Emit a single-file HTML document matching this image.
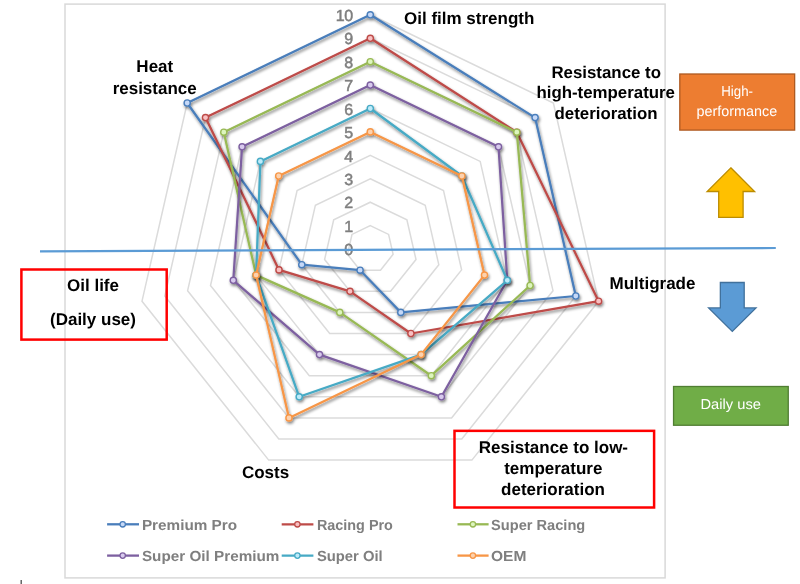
<!DOCTYPE html>
<html><head><meta charset="utf-8"><title>Radar chart</title>
<style>
html,body{margin:0;padding:0;background:#fff;}
body{width:800px;height:584px;overflow:hidden;position:relative;font-family:"Liberation Sans",sans-serif;}
svg{position:absolute;left:0;top:0;display:block;}
.cat{font-family:"Liberation Sans",sans-serif;font-weight:bold;font-size:17px;fill:#000;text-anchor:middle;}
.shp{font-family:"Liberation Sans",sans-serif;font-size:14.4px;fill:#fff;text-anchor:middle;}
</style></head><body>
<svg style="opacity:0.999;text-rendering:geometricPrecision" width="800" height="584" viewBox="0 0 800 584">
<defs>
<filter id="sh" x="-10%" y="-10%" width="120%" height="120%">
<feGaussianBlur in="SourceAlpha" stdDeviation="1.5" result="b"/>
<feOffset in="b" dx="0.8" dy="1.6" result="o"/>
<feComponentTransfer in="o" result="s"><feFuncA type="linear" slope="0.5"/></feComponentTransfer>
<feMerge><feMergeNode in="s"/><feMergeNode in="SourceGraphic"/></feMerge>
</filter>
</defs>
<rect x="0" y="0" width="800" height="584" fill="#fff"/>
<!-- chart area border -->
<rect x="65" y="4.1" width="600.1" height="573.8" fill="none" stroke="#D9D9D9" stroke-width="1.5"/>
<line x1="21.2" y1="580" x2="21.2" y2="584" stroke="#4D4D4D" stroke-width="1.3"/>
<!-- grid -->
<g fill="none" stroke="#DBDBDB" stroke-width="1.5"><polygon points="370.3,225.6 388.6,234.4 393.1,254.3 380.5,270.2 360.1,270.2 347.5,254.3 352.0,234.4"/><polygon points="370.3,202.2 406.9,219.8 416.0,259.5 390.6,291.3 350.0,291.3 324.6,259.5 333.7,219.8"/><polygon points="370.3,178.8 425.2,205.2 438.8,264.7 400.8,312.4 339.8,312.4 301.8,264.7 315.4,205.2"/><polygon points="370.3,155.4 443.5,190.6 461.6,269.9 410.9,333.5 329.7,333.5 279.0,269.9 297.1,190.6"/><polygon points="370.3,131.9 461.9,176.0 484.5,275.1 421.1,354.6 319.5,354.6 256.1,275.1 278.7,176.0"/><polygon points="370.3,108.5 480.2,161.4 507.3,280.3 431.3,375.7 309.3,375.7 233.3,280.3 260.4,161.4"/><polygon points="370.3,85.1 498.5,146.8 530.1,285.5 441.4,396.8 299.2,396.8 210.5,285.5 242.1,146.8"/><polygon points="370.3,61.7 516.8,132.2 553.0,290.7 451.6,417.9 289.0,417.9 187.6,290.7 223.8,132.2"/><polygon points="370.3,38.3 535.1,117.6 575.8,296.0 461.8,439.0 278.8,439.0 164.8,296.0 205.5,117.6"/><polygon points="370.3,14.8 553.4,103.0 598.6,301.2 471.9,460.1 268.7,460.1 142.0,301.2 187.2,103.0"/></g>
<!-- tick labels -->
<g font-family="Liberation Sans, sans-serif" font-weight="normal" font-size="16" fill="#7F7F7F" stroke="#7F7F7F" stroke-width="0.5" text-anchor="end"><text x="353.1" y="255.2">0</text><text x="353.1" y="231.7">1</text><text x="353.1" y="208.3">2</text><text x="353.1" y="184.9">3</text><text x="353.1" y="161.5">4</text><text x="353.1" y="138.0">5</text><text x="353.1" y="114.6">6</text><text x="353.1" y="91.2">7</text><text x="353.1" y="67.8">8</text><text x="353.1" y="44.4">9</text><text x="353.1" y="20.9" textLength="17.4" lengthAdjust="spacing">10</text></g>
<!-- series -->
<g filter="url(#sh)"><polygon points="370.3,14.8 535.1,117.6 575.8,296.0 400.8,312.4 360.1,270.2 301.8,264.7 187.2,103.0" fill="none" stroke="#4A7EBB" stroke-width="2.25" stroke-linejoin="round"/><circle cx="370.3" cy="14.8" r="3.1" fill="#C6D9F8" stroke="#4A7EBB" stroke-width="1.4"/><circle cx="535.1" cy="117.6" r="3.1" fill="#C6D9F8" stroke="#4A7EBB" stroke-width="1.4"/><circle cx="575.8" cy="296.0" r="3.1" fill="#C6D9F8" stroke="#4A7EBB" stroke-width="1.4"/><circle cx="400.8" cy="312.4" r="3.1" fill="#C6D9F8" stroke="#4A7EBB" stroke-width="1.4"/><circle cx="360.1" cy="270.2" r="3.1" fill="#C6D9F8" stroke="#4A7EBB" stroke-width="1.4"/><circle cx="301.8" cy="264.7" r="3.1" fill="#C6D9F8" stroke="#4A7EBB" stroke-width="1.4"/><circle cx="187.2" cy="103.0" r="3.1" fill="#C6D9F8" stroke="#4A7EBB" stroke-width="1.4"/></g>
<g filter="url(#sh)"><polygon points="370.3,38.3 516.8,132.2 598.6,301.2 410.9,333.5 350.0,291.3 279.0,269.9 205.5,117.6" fill="none" stroke="#BE4B48" stroke-width="2.25" stroke-linejoin="round"/><circle cx="370.3" cy="38.3" r="3.1" fill="#F8C0C2" stroke="#BE4B48" stroke-width="1.4"/><circle cx="516.8" cy="132.2" r="3.1" fill="#F8C0C2" stroke="#BE4B48" stroke-width="1.4"/><circle cx="598.6" cy="301.2" r="3.1" fill="#F8C0C2" stroke="#BE4B48" stroke-width="1.4"/><circle cx="410.9" cy="333.5" r="3.1" fill="#F8C0C2" stroke="#BE4B48" stroke-width="1.4"/><circle cx="350.0" cy="291.3" r="3.1" fill="#F8C0C2" stroke="#BE4B48" stroke-width="1.4"/><circle cx="279.0" cy="269.9" r="3.1" fill="#F8C0C2" stroke="#BE4B48" stroke-width="1.4"/><circle cx="205.5" cy="117.6" r="3.1" fill="#F8C0C2" stroke="#BE4B48" stroke-width="1.4"/></g>
<g filter="url(#sh)"><polygon points="370.3,61.7 516.8,132.2 530.1,285.5 431.3,375.7 339.8,312.4 256.1,275.1 223.8,132.2" fill="none" stroke="#98B954" stroke-width="2.25" stroke-linejoin="round"/><circle cx="370.3" cy="61.7" r="3.1" fill="#DDF5BE" stroke="#98B954" stroke-width="1.4"/><circle cx="516.8" cy="132.2" r="3.1" fill="#DDF5BE" stroke="#98B954" stroke-width="1.4"/><circle cx="530.1" cy="285.5" r="3.1" fill="#DDF5BE" stroke="#98B954" stroke-width="1.4"/><circle cx="431.3" cy="375.7" r="3.1" fill="#DDF5BE" stroke="#98B954" stroke-width="1.4"/><circle cx="339.8" cy="312.4" r="3.1" fill="#DDF5BE" stroke="#98B954" stroke-width="1.4"/><circle cx="256.1" cy="275.1" r="3.1" fill="#DDF5BE" stroke="#98B954" stroke-width="1.4"/><circle cx="223.8" cy="132.2" r="3.1" fill="#DDF5BE" stroke="#98B954" stroke-width="1.4"/></g>
<g filter="url(#sh)"><polygon points="370.3,85.1 498.5,146.8 507.3,280.3 441.4,396.8 319.5,354.6 233.3,280.3 242.1,146.8" fill="none" stroke="#7D60A0" stroke-width="2.25" stroke-linejoin="round"/><circle cx="370.3" cy="85.1" r="3.1" fill="#D8CAEE" stroke="#7D60A0" stroke-width="1.4"/><circle cx="498.5" cy="146.8" r="3.1" fill="#D8CAEE" stroke="#7D60A0" stroke-width="1.4"/><circle cx="507.3" cy="280.3" r="3.1" fill="#D8CAEE" stroke="#7D60A0" stroke-width="1.4"/><circle cx="441.4" cy="396.8" r="3.1" fill="#D8CAEE" stroke="#7D60A0" stroke-width="1.4"/><circle cx="319.5" cy="354.6" r="3.1" fill="#D8CAEE" stroke="#7D60A0" stroke-width="1.4"/><circle cx="233.3" cy="280.3" r="3.1" fill="#D8CAEE" stroke="#7D60A0" stroke-width="1.4"/><circle cx="242.1" cy="146.8" r="3.1" fill="#D8CAEE" stroke="#7D60A0" stroke-width="1.4"/></g>
<g filter="url(#sh)"><polygon points="370.3,108.5 461.9,176.0 507.3,280.3 421.1,354.6 299.2,396.8 256.1,275.1 260.4,161.4" fill="none" stroke="#46AAC5" stroke-width="2.25" stroke-linejoin="round"/><circle cx="370.3" cy="108.5" r="3.1" fill="#BEEBFA" stroke="#46AAC5" stroke-width="1.4"/><circle cx="461.9" cy="176.0" r="3.1" fill="#BEEBFA" stroke="#46AAC5" stroke-width="1.4"/><circle cx="507.3" cy="280.3" r="3.1" fill="#BEEBFA" stroke="#46AAC5" stroke-width="1.4"/><circle cx="421.1" cy="354.6" r="3.1" fill="#BEEBFA" stroke="#46AAC5" stroke-width="1.4"/><circle cx="299.2" cy="396.8" r="3.1" fill="#BEEBFA" stroke="#46AAC5" stroke-width="1.4"/><circle cx="256.1" cy="275.1" r="3.1" fill="#BEEBFA" stroke="#46AAC5" stroke-width="1.4"/><circle cx="260.4" cy="161.4" r="3.1" fill="#BEEBFA" stroke="#46AAC5" stroke-width="1.4"/></g>
<g filter="url(#sh)"><polygon points="370.3,131.9 461.9,176.0 484.5,275.1 421.1,354.6 289.0,417.9 256.1,275.1 278.7,176.0" fill="none" stroke="#F79646" stroke-width="2.25" stroke-linejoin="round"/><circle cx="370.3" cy="131.9" r="3.1" fill="#FDD2AE" stroke="#F79646" stroke-width="1.4"/><circle cx="461.9" cy="176.0" r="3.1" fill="#FDD2AE" stroke="#F79646" stroke-width="1.4"/><circle cx="484.5" cy="275.1" r="3.1" fill="#FDD2AE" stroke="#F79646" stroke-width="1.4"/><circle cx="421.1" cy="354.6" r="3.1" fill="#FDD2AE" stroke="#F79646" stroke-width="1.4"/><circle cx="289.0" cy="417.9" r="3.1" fill="#FDD2AE" stroke="#F79646" stroke-width="1.4"/><circle cx="256.1" cy="275.1" r="3.1" fill="#FDD2AE" stroke="#F79646" stroke-width="1.4"/><circle cx="278.7" cy="176.0" r="3.1" fill="#FDD2AE" stroke="#F79646" stroke-width="1.4"/></g>
<!-- category labels -->
<text class="cat" x="469.2" y="24.2">Oil film strength</text>
<text class="cat" style="font-size:16.85px" x="606.2" y="77.9">Resistance to</text>
<text class="cat" style="font-size:16.85px" x="605.7" y="98.1">high-temperature</text>
<text class="cat" style="font-size:16.85px" x="606" y="118.9">deterioration</text>
<text class="cat" x="652.5" y="288.8">Multigrade</text>
<text class="cat" x="265.5" y="478.3">Costs</text>
<text class="cat" x="154.8" y="71.5">Heat</text>
<text class="cat" x="154.7" y="93.6">resistance</text>
<!-- red callout boxes -->
<rect x="454.5" y="430.85" width="199.6" height="76.65" fill="none" stroke="#FF0000" stroke-width="2.5"/>
<text class="cat" x="553.4" y="452.6">Resistance to low-</text>
<text class="cat" x="553.3" y="473.7">temperature</text>
<text class="cat" x="553" y="494.8">deterioration</text>
<rect x="21.4" y="269.5" width="145.3" height="70.1" fill="none" stroke="#FF0000" stroke-width="2.5"/>
<text class="cat" x="93" y="291.4">Oil life</text>
<text class="cat" x="93" y="325">(Daily use)</text>
<!-- legend -->
<g font-family="Liberation Sans, sans-serif" font-weight="bold" font-size="14.6" fill="#7F7F7F"><line x1="107.1" y1="524.3" x2="139.0" y2="524.3" stroke="#4A7EBB" stroke-width="2.3"/><circle cx="122.7" cy="524.3" r="2.7" fill="#C6D9F8" stroke="#4A7EBB" stroke-width="1.3"/><text x="141.9" y="529.6" textLength="95.2" lengthAdjust="spacingAndGlyphs">Premium Pro</text><line x1="281.7" y1="524.3" x2="313.4" y2="524.3" stroke="#BE4B48" stroke-width="2.3"/><circle cx="297.4" cy="524.3" r="2.7" fill="#F8C0C2" stroke="#BE4B48" stroke-width="1.3"/><text x="316.9" y="529.6" textLength="76.0" lengthAdjust="spacingAndGlyphs">Racing Pro</text><line x1="457.5" y1="524.3" x2="488.6" y2="524.3" stroke="#98B954" stroke-width="2.3"/><circle cx="472.9" cy="524.3" r="2.7" fill="#DDF5BE" stroke="#98B954" stroke-width="1.3"/><text x="491.0" y="529.6" textLength="94.3" lengthAdjust="spacingAndGlyphs">Super Racing</text><line x1="107.1" y1="555.6" x2="139.0" y2="555.6" stroke="#7D60A0" stroke-width="2.3"/><circle cx="122.7" cy="555.6" r="2.7" fill="#D8CAEE" stroke="#7D60A0" stroke-width="1.3"/><text x="141.9" y="560.9" textLength="137.5" lengthAdjust="spacingAndGlyphs">Super Oil Premium</text><line x1="281.7" y1="555.6" x2="313.4" y2="555.6" stroke="#46AAC5" stroke-width="2.3"/><circle cx="297.4" cy="555.6" r="2.7" fill="#BEEBFA" stroke="#46AAC5" stroke-width="1.3"/><text x="316.9" y="560.9" textLength="65.8" lengthAdjust="spacingAndGlyphs">Super Oil</text><line x1="457.5" y1="555.6" x2="488.6" y2="555.6" stroke="#F79646" stroke-width="2.3"/><circle cx="472.9" cy="555.6" r="2.7" fill="#FDD2AE" stroke="#F79646" stroke-width="1.3"/><text x="491.0" y="560.9" textLength="35.4" lengthAdjust="spacingAndGlyphs">OEM</text></g>
<!-- divider line -->
<line x1="40" y1="251.3" x2="775.8" y2="248" stroke="#5B9BD5" stroke-width="2.2"/>
<!-- right-hand shapes -->
<rect x="679.8" y="74" width="114.85" height="56.1" fill="#ED7D31" stroke="#AE5A21" stroke-width="1.3"/>
<text class="shp" x="737.1" y="95.9" textLength="31.8" lengthAdjust="spacingAndGlyphs">High-</text>
<text class="shp" x="736.9" y="115.8" textLength="80.6" lengthAdjust="spacingAndGlyphs">performance</text>
<polygon points="730.85,167.8 754.6,191.5 743.1,191.5 743.1,217.3 718.7,217.3 718.7,191.5 707.1,191.5" fill="#FFC000" stroke="#BC8C00" stroke-width="1.3" stroke-linejoin="miter"/>
<polygon points="720.35,282.5 744.2,282.5 744.2,307.9 756,307.9 732.3,331.4 708.6,307.9 720.35,307.9" fill="#5B9BD5" stroke="#41719C" stroke-width="1.3" stroke-linejoin="miter"/>
<rect x="673.55" y="386.5" width="114.7" height="38.75" fill="#70AD47" stroke="#507E32" stroke-width="1.3"/>
<text class="shp" x="730.7" y="408.9" textLength="60.4" lengthAdjust="spacingAndGlyphs">Daily use</text>
</svg>
</body></html>
